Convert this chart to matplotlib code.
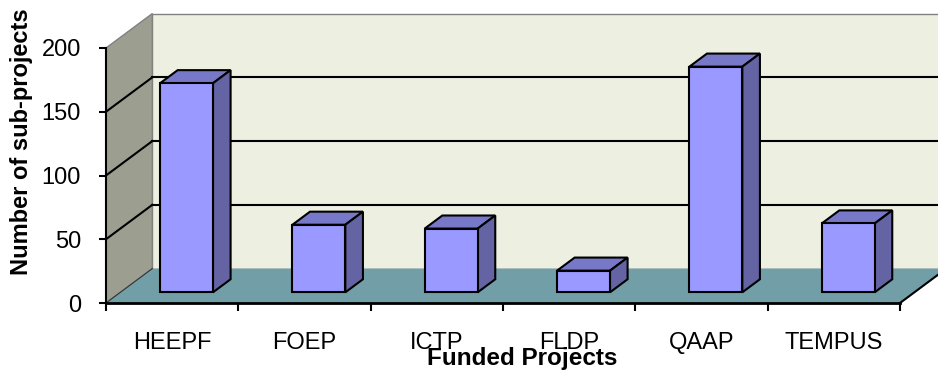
# 3D-style column chart: number of sub-projects per funded project

import matplotlib.pyplot as plt
from matplotlib.patches import Polygon

plt.rcParams["font.family"] = ["Liberation Sans", "DejaVu Sans"]

# Data
projects = ["HEEPF", "FOEP", "ICTP", "FLDP", "QAAP", "TEMPUS"]
sub_projects = [164, 53, 50, 17, 177, 54]
y_ticks = [0, 50, 100, 150, 200]

# Oblique depth of the plot box (in data units) and bar placement within it
depth_x = 0.35
depth_y = 27.0
bar_front = 0.31
bar_back = 0.69
bar_width = 0.4
y_top = 200

# Colours
front_col = "#9999FF"
top_col = "#7878C8"
side_col = "#6464A4"
floor_col = "#729EA8"
back_col = "#EDF0E0"
wall_col = "#9C9F90"

fig = plt.figure(figsize=(9.38, 3.74), dpi=100)
ax = fig.add_axes([106 / 938, 71 / 374, 794 / 938, 255 / 374])
n = len(projects)
ax.set_xlim(0, n)
ax.set_ylim(0, y_top)
ax.set_facecolor("none")

# Walls and floor
back = Polygon([(depth_x, depth_y), (n + depth_x, depth_y),
                (n + depth_x, y_top + depth_y), (depth_x, y_top + depth_y)],
               closed=True, facecolor=back_col, edgecolor="#808080", lw=1,
               clip_on=False, zorder=0)
side = Polygon([(0, 0), (depth_x, depth_y), (depth_x, y_top + depth_y), (0, y_top)],
               closed=True, facecolor=wall_col, edgecolor="#808080", lw=1,
               clip_on=False, zorder=0)
floor = Polygon([(0, 0), (n, 0), (n + depth_x, depth_y), (depth_x, depth_y)],
                closed=True, facecolor=floor_col, edgecolor="none",
                clip_on=False, zorder=0.5)
ax.add_patch(back)
ax.add_patch(side)
ax.add_patch(floor)
ax.plot([n, n + depth_x], [0, depth_y], color="black", lw=1.5, clip_on=False, zorder=0.6)
ax.plot([0, depth_x], [0, depth_y], color="#333333", lw=0.8, clip_on=False, zorder=0.6)

# Gridlines on back wall and side wall
for v in y_ticks[1:-1]:
    ax.plot([depth_x, n + depth_x], [v + depth_y, v + depth_y], color="black",
            lw=1.5, clip_on=False, zorder=1)
    ax.plot([0, depth_x], [v, v + depth_y], color="black", lw=1.5,
            clip_on=False, zorder=1)

# Bars: front face through ax.bar, top and side faces as polygons
x0 = bar_front * depth_x
b0 = bar_front * depth_y
dxb = (bar_back - bar_front) * depth_x
dyb = (bar_back - bar_front) * depth_y
centers = [i + 0.5 + x0 for i in range(n)]
ax.bar(centers, sub_projects, width=bar_width, bottom=b0, color=front_col,
       edgecolor="black", lw=1.5, zorder=3, clip_on=False)
for c, v in zip(centers, sub_projects):
    l, r = c - bar_width / 2, c + bar_width / 2
    t = b0 + v
    top = Polygon([(l, t), (r, t), (r + dxb, t + dyb), (l + dxb, t + dyb)],
                  closed=True, facecolor=top_col, edgecolor="black", lw=1.5,
                  clip_on=False, zorder=2.5)
    sidef = Polygon([(r, b0), (r + dxb, b0 + dyb), (r + dxb, t + dyb), (r, t)],
                    closed=True, facecolor=side_col, edgecolor="black", lw=1.5,
                    clip_on=False, zorder=2.5)
    ax.add_patch(top)
    ax.add_patch(sidef)

# Axes
for s in ["top", "right"]:
    ax.spines[s].set_visible(False)
ax.spines["left"].set_linewidth(1.5)
ax.spines["bottom"].set_linewidth(2)
ax.spines["left"].set_zorder(4)
ax.spines["bottom"].set_zorder(4)

ax.set_yticks(y_ticks)
ax.tick_params(axis="y", direction="out", length=5, width=1.5, pad=13, labelsize=17)
ax.set_xticks(range(n + 1))
ax.set_xticklabels([])
ax.set_xticks([i + 0.5 for i in range(n)], minor=True)
ax.set_xticklabels(projects, minor=True)
ax.tick_params(axis="x", which="major", direction="out", length=6, width=1.5)
ax.tick_params(axis="x", which="minor", length=0, pad=21, labelsize=17)

ax.text((522 - 106) / 794, (303 - 359) / 255, "Funded Projects", transform=ax.transAxes,
        ha="center", va="center", fontsize=17.5, fontweight="bold")
ax.text((22 - 106) / 794, (303 - 142) / 255, "Number of sub-projects", transform=ax.transAxes,
        ha="center", va="center", rotation=90, fontsize=17, fontweight="bold")

fig.savefig("out.png", dpi=100)
